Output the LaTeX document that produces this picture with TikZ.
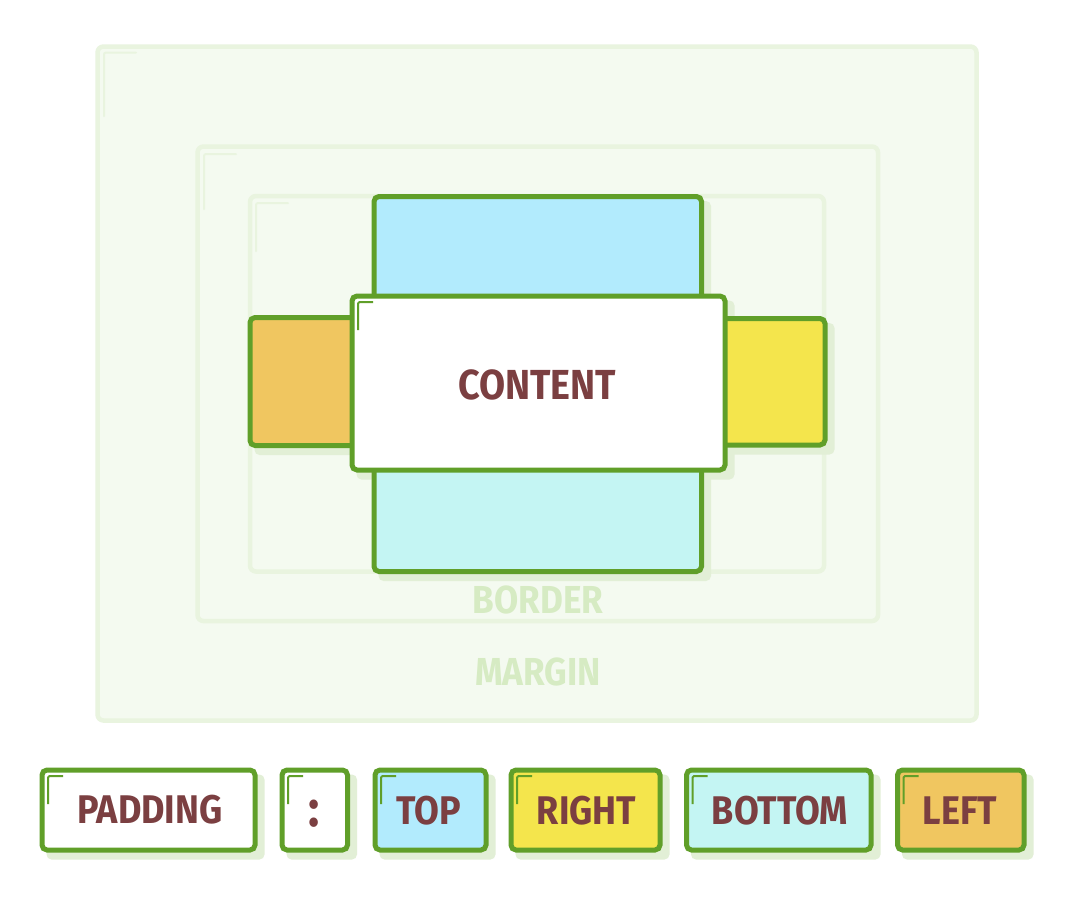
\documentclass[tikz,border=0pt]{standalone}
\usepackage{fontspec}
\newfontfamily\lblfont[FakeStretch=0.9]{Fira Sans}
\definecolor{grn}{HTML}{609F29}
\definecolor{faintline}{HTML}{E9F4DF}
\definecolor{faintfill}{HTML}{F4FAF0}
\definecolor{fainttext}{HTML}{D6EBC3}
\definecolor{shadowc}{HTML}{E2EFD6}
\definecolor{txt}{HTML}{7B3F41}
\definecolor{topc}{HTML}{B2EBFD}
\definecolor{botc}{HTML}{C4F5F3}
\definecolor{leftc}{HTML}{F0C660}
\definecolor{rightc}{HTML}{F4E54C}
\tikzset{
  faintbox/.style={draw=faintline, fill=faintfill, line width=4.5pt, rounded corners=6pt},
  fmark/.style={draw=faintline, line width=2pt, rounded corners=2pt, line cap=round},
  gmark/.style={draw=grn, line width=2pt, rounded corners=1.5pt},
  gboxstyle/.style={draw=grn, line width=5pt, rounded corners=5pt, inner sep=0pt, outer sep=0pt},
  shadowstyle/.style={fill=shadowc, rounded corners=5pt},
  lbl/.style={text=txt, font=\lblfont\bfseries\fontsize{40}{40}\selectfont},
  colonlbl/.style={text=txt, font=\lblfont\bfseries\fontsize{52}{52}\selectfont},
  bigl/.style={text=txt, font=\lblfont\bfseries\fontsize{42}{42}\selectfont},
  faintlbl/.style={text=fainttext, font=\lblfont\bfseries\fontsize{39}{39}\selectfont},
}
\newcommand\shadowbox[4]{\fill[shadowstyle] (#1-2.5+7,#2-2.5+7) rectangle (#3+2.5+7,#4+2.5+7);}
\newcommand\greenbox[6]{%
  \node[gboxstyle, fill=#6, minimum width={#4-#2}, minimum height={#5-#3}] (#1) at ({(#2+#4)/2},{(#3+#5)/2}) {};}
\newcommand\gm[2]{\draw[gmark] (#1+6,#2+34) -- (#1+6,#2+6) -- (#1+21,#2+6);}
\begin{document}
\begin{tikzpicture}[x=1pt,y=-1pt]
\useasboundingbox[fill=white] (0,0) rectangle (1074,900);
% faint boxes
\draw[faintbox] (97.5,46.5) rectangle (976.5,720.5);
\draw[fmark] (104,116) -- (104,52.5) -- (136,52.5);
\draw[faintbox] (197.5,146.5) rectangle (878,621);
\draw[fmark] (204,209) -- (204,154) -- (236,154);
\draw[faintbox] (250,196) rectangle (824,571.5);
\draw[fmark] (256,251) -- (256,203) -- (288,203);
\node[faintlbl] (borderlbl) at (538,600) {BORDER};
\node[faintlbl] (marginlbl) at (538,671.5) {MARGIN};
% shadows
\shadowbox{374}{196.5}{701.5}{384}
\shadowbox{374}{384}{701.5}{571.5}
\shadowbox{250}{317.5}{360}{445.5}
\shadowbox{715}{318.5}{825}{445}
\shadowbox{352}{296}{725}{470}
% padding boxes
\greenbox{topbox}{374}{196.5}{701.5}{384}{topc}
\greenbox{bottombox}{374}{384}{701.5}{571.5}{botc}
\greenbox{leftbox}{250}{317.5}{360}{445.5}{leftc}
\greenbox{rightbox}{715}{318.5}{825}{445}{rightc}
% content
\greenbox{content}{352}{296}{725}{470}{white}
\gm{352}{296}
\node[bigl] (contentlbl) at (537,384.5) {CONTENT};
% legend
\shadowbox{42}{770}{255}{850}
\shadowbox{282}{770}{347.5}{850}
\shadowbox{375}{770}{486}{850}
\shadowbox{511}{770}{660}{850}
\shadowbox{686.5}{770}{871}{850}
\shadowbox{897.5}{770}{1024}{850}
\greenbox{lpad}{42}{770}{255}{850}{white}
\greenbox{lcolon}{282}{770}{347.5}{850}{white}
\greenbox{ltop}{375}{770}{486}{850}{topc}
\greenbox{lright}{511}{770}{660}{850}{rightc}
\greenbox{lbottom}{686.5}{770}{871}{850}{botc}
\greenbox{lleft}{897.5}{770}{1024}{850}{leftc}
\gm{42}{770}
\gm{282}{770}
\gm{375}{770}
\gm{511}{770}
\gm{686.5}{770}
\gm{897.5}{770}
\node[lbl] (tpad) at (150,810) {PADDING};
\node[colonlbl] (tcolon) at (314.5,813.5) {:};
\node[lbl] (ttop) at (429,810.5) {TOP};
\node[lbl] (tright) at (586.5,810.5) {RIGHT};
\node[lbl] (tbottom) at (780,810.5) {BOTTOM};
\node[lbl] (tleft) at (960,810.5) {LEFT};
\end{tikzpicture}
\end{document}
